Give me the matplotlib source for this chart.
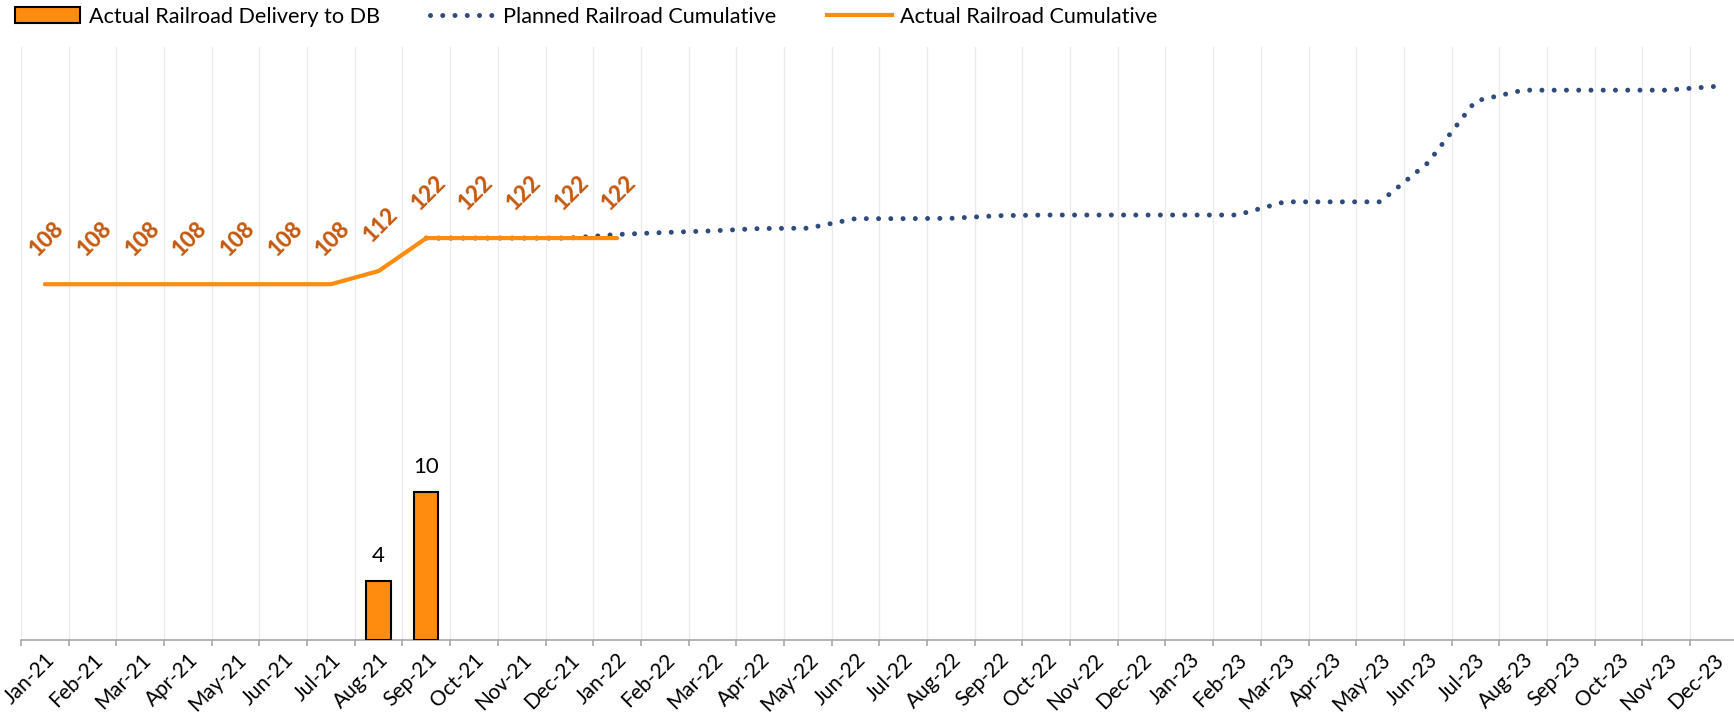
import matplotlib
matplotlib.use("Agg")
import numpy as np
import matplotlib.pyplot as plt
from matplotlib.patches import Patch
from matplotlib.lines import Line2D

plt.rcParams['font.family'] = ['Lato', 'DejaVu Sans']

# --- data -----------------------------------------------------------------
months = [m + "-" + y for y in ("21", "22", "23")
          for m in ("Jan", "Feb", "Mar", "Apr", "May", "Jun",
                    "Jul", "Aug", "Sep", "Oct", "Nov", "Dec")]

# monthly deliveries (secondary axis)
delivery_months = ["Aug-21", "Sep-21"]
delivery_values = [4, 10]

# actual cumulative, Jan-21 .. Jan-22
actual_cum = [108, 108, 108, 108, 108, 108, 108, 112,
              122, 122, 122, 122, 122]

# planned cumulative, Sep-21 .. Dec-23
planned_start = "Sep-21"
planned_cum = [122, 122, 122, 122,
               123.1, 123.7, 124.2, 124.9, 125.0, 127.9,
               127.9, 128.0, 128.8, 129.0, 129.0, 129.0,
               129.0, 129.0, 133.0, 133.0, 133.0, 144.8,
               163.6, 166.9, 166.9, 166.9, 166.9, 168.0]

# --- styles ---------------------------------------------------------------
orange = '#FF8C0F'
label_orange = '#C55A11'
navy = '#2F4B7C'

fig = plt.figure(figsize=(17.34, 7.15), dpi=100)
ax = fig.add_axes([21 / 1734, 75 / 715, 1 - 21 / 1734, 593 / 715])
ax2 = ax.twinx()

x_all = np.arange(len(months))
x_actual = np.arange(len(actual_cum))
p0 = months.index(planned_start)
x_planned = np.arange(p0, p0 + len(planned_cum))
x_bars = [months.index(m) for m in delivery_months]

# planned (dotted, round dots)
ax.plot(x_planned, planned_cum, color=navy, lw=3.6,
        linestyle=(0, (0.001, 2.45)), dash_capstyle='round', zorder=3)
# actual
ax.plot(x_actual, actual_cum, color=orange, lw=3.0,
        solid_capstyle='round', zorder=4)

for i, v in zip(x_actual, actual_cum):
    ax.annotate(str(v), (i, v), xytext=(1.5, 33), textcoords='offset points',
                rotation=45, ha='center', va='center', color=label_orange,
                fontweight='black', fontsize=16)

# bars on secondary axis
ax2.bar(x_bars, delivery_values, width=0.51, color=orange,
        edgecolor='black', linewidth=1.5, zorder=3)
for i, v in zip(x_bars, delivery_values):
    ax2.annotate(str(v), (i, v), xytext=(0, 18), textcoords='offset points',
                 ha='center', va='center', fontsize=16, color='black')

ax.set_ylim(0, 180)
ax2.set_ylim(0, 40)
ax.set_xlim(-0.5, -0.5 + 1713 / 47.686)

# x axis: labels at month centres, tick marks + gridlines at boundaries
ax.set_xticks(x_all)
ax.set_xticklabels(months, rotation=45, ha='right', va='top',
                   rotation_mode='anchor', fontsize=15)
ax.tick_params(axis='x', which='major', length=0, pad=7)
ax.set_xticks(np.arange(-0.5, len(months) - 0.5, 1), minor=True)
ax.tick_params(axis='x', which='minor', length=4.5, width=1.1,
               color='#A0A0A0', direction='out')
ax.grid(which='minor', axis='x', color='#EBEBEB', lw=1.0)
ax.set_axisbelow(True)

for a in (ax, ax2):
    a.set_yticks([])
    for s in ('top', 'left', 'right', 'bottom'):
        a.spines[s].set_visible(False)
ax.spines['bottom'].set_visible(True)
ax.spines['bottom'].set_color('#A0A0A0')
ax.spines['bottom'].set_linewidth(1.1)

# legend
handles = [
    Patch(facecolor=orange, edgecolor='black', linewidth=1.5),
    Line2D([], [], color=navy, lw=3.6, linestyle=(0, (0.001, 2.45)),
           dash_capstyle='round'),
    Line2D([], [], color=orange, lw=3.0),
]
labels = ["Actual Railroad Delivery to DB", "Planned Railroad Cumulative",
          "Actual Railroad Cumulative"]
fig.legend(handles, labels, loc='upper left', bbox_to_anchor=(0.0, 1.012),
           ncol=3, frameon=False, fontsize=15.6, handlelength=3.0,
           handleheight=0.7, handletextpad=0.4, columnspacing=2.3,
           borderaxespad=0.3)

fig.savefig("out.png", dpi=100)
